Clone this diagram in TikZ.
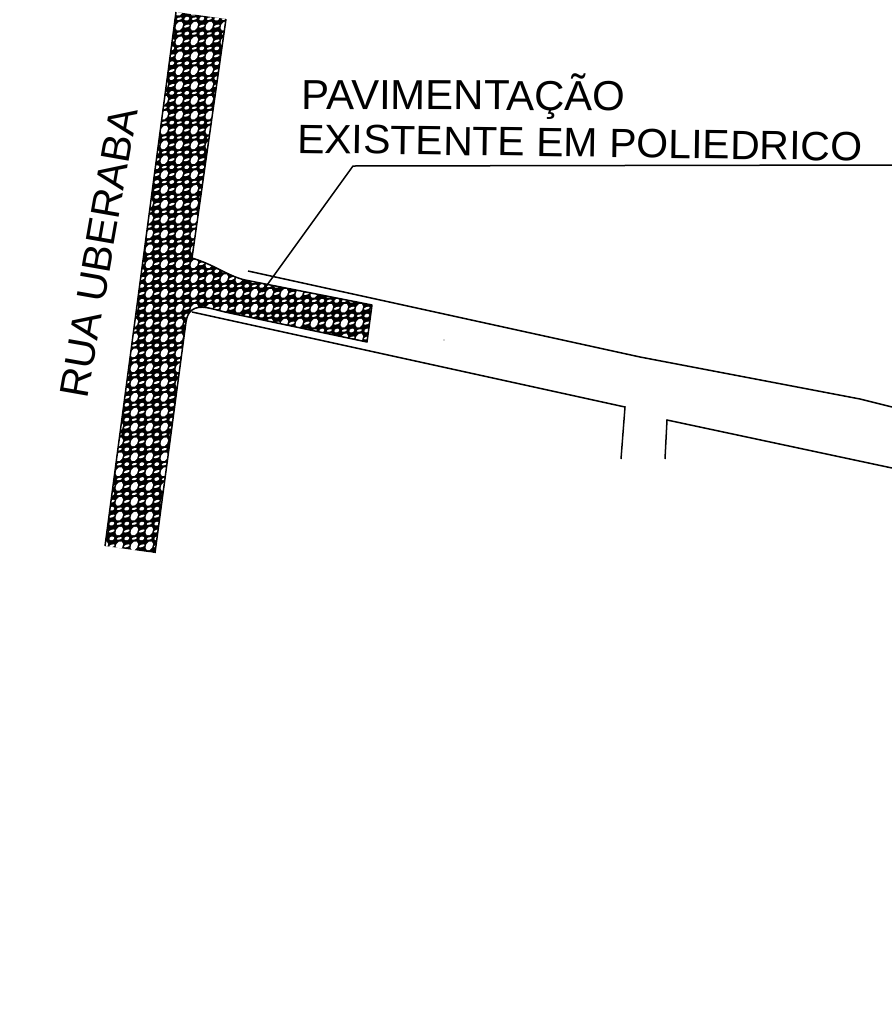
\documentclass[tikz,border=0pt]{standalone}
\usepackage{fontspec}
\setmainfont{Liberation Sans}
\tikzset{
  outline/.style={line width=1.5pt,black,line join=round},
  roadline/.style={line width=1.5pt,black},
  hole/.style={fill=white,draw=none},
  label/.style={inner sep=0pt,anchor=base west,font=\fontsize{41}{41}\selectfont}
}
\begin{document}
\begin{tikzpicture}[x=1pt,y=-1pt]
\useasboundingbox (0,0) rectangle (892,1010);
\fill[white] (0,0) rectangle (892,1010);
% hatched pavement
\def\pave{(176,12) -- (226,19) -- (192,258) .. controls (215,265) and (228,276) .. (245,280) -- (372,305) -- (367,342) -- (225,312) .. controls (212,309) and (200,304) .. (192,310) .. controls (188,313) and (187,317) .. (186,322) -- (155,553) -- (105,546) -- cycle}
\fill[black] \pave;
\begin{scope}
\clip \pave;
\foreach \i in {-4,...,15}{
  \foreach \j in {-15,...,22}{
    \pgfmathsetmacro{\cx}{149.3+15*\i}
    \pgfmathsetmacro{\cy}{234+14.85*\j}
    \fill[hole] (\cx,\cy) ellipse[x radius=3.3pt,y radius=4.9pt,rotate=-30];
    \fill[hole] (\cx+7.5,\cy) ellipse[x radius=3pt,y radius=1.2pt,rotate=20];
    \fill[hole] (\cx,\cy+7.4) ellipse[x radius=2.6pt,y radius=1.1pt,rotate=15];
    \fill[hole] (\cx+7.5,\cy+7.4) ellipse[x radius=2.5pt,y radius=1.8pt,rotate=20];
  }
}
\end{scope}
% side edges only: the top and bottom ends stay open and ragged
\draw[outline] (226,19) -- (192,258) .. controls (215,265) and (228,276) .. (245,280) -- (372,305) -- (367,342) -- (225,312) .. controls (212,309) and (200,304) .. (192,310) .. controls (188,313) and (187,317) .. (186,322) -- (155,553);
\draw[outline] (105,546) -- (176,12);
% road edges
\coordinate (t1) at (248,271);
\coordinate (t2) at (640,357);
\coordinate (t3) at (860,399);
\coordinate (t4) at (892,407);
\coordinate (b1) at (192,312);
\coordinate (b2) at (625,407);
\coordinate (b3) at (621,459);
\coordinate (c1) at (665,459);
\coordinate (c2) at (667,420);
\coordinate (c3) at (892,468);
\draw[roadline] (t1) -- (t2) -- (t3) -- (t4);
\draw[roadline] (b1) -- (b2) -- (b3);
\draw[roadline] (c1) -- (c2) -- (c3);
\fill[black!70] (444,340) circle (0.6pt);
% leader
\coordinate (l1) at (892,165);
\coordinate (l2) at (353,166);
\coordinate (l3) at (262,292);
\draw[roadline] (l1) -- (l2) -- (l3);
% labels
\node[label,font=\fontsize{42}{42}\selectfont,rotate=-0.3] (pav) at (301,109) {PAVIMENTAÇÃO};
\node[label,rotate=-0.8] (exi) at (297,153) {EXISTENTE EM POLIEDRICO};
\node[label,rotate=80] (rua) at (87,400) {RUA UBERABA};
\end{tikzpicture}
\end{document}
